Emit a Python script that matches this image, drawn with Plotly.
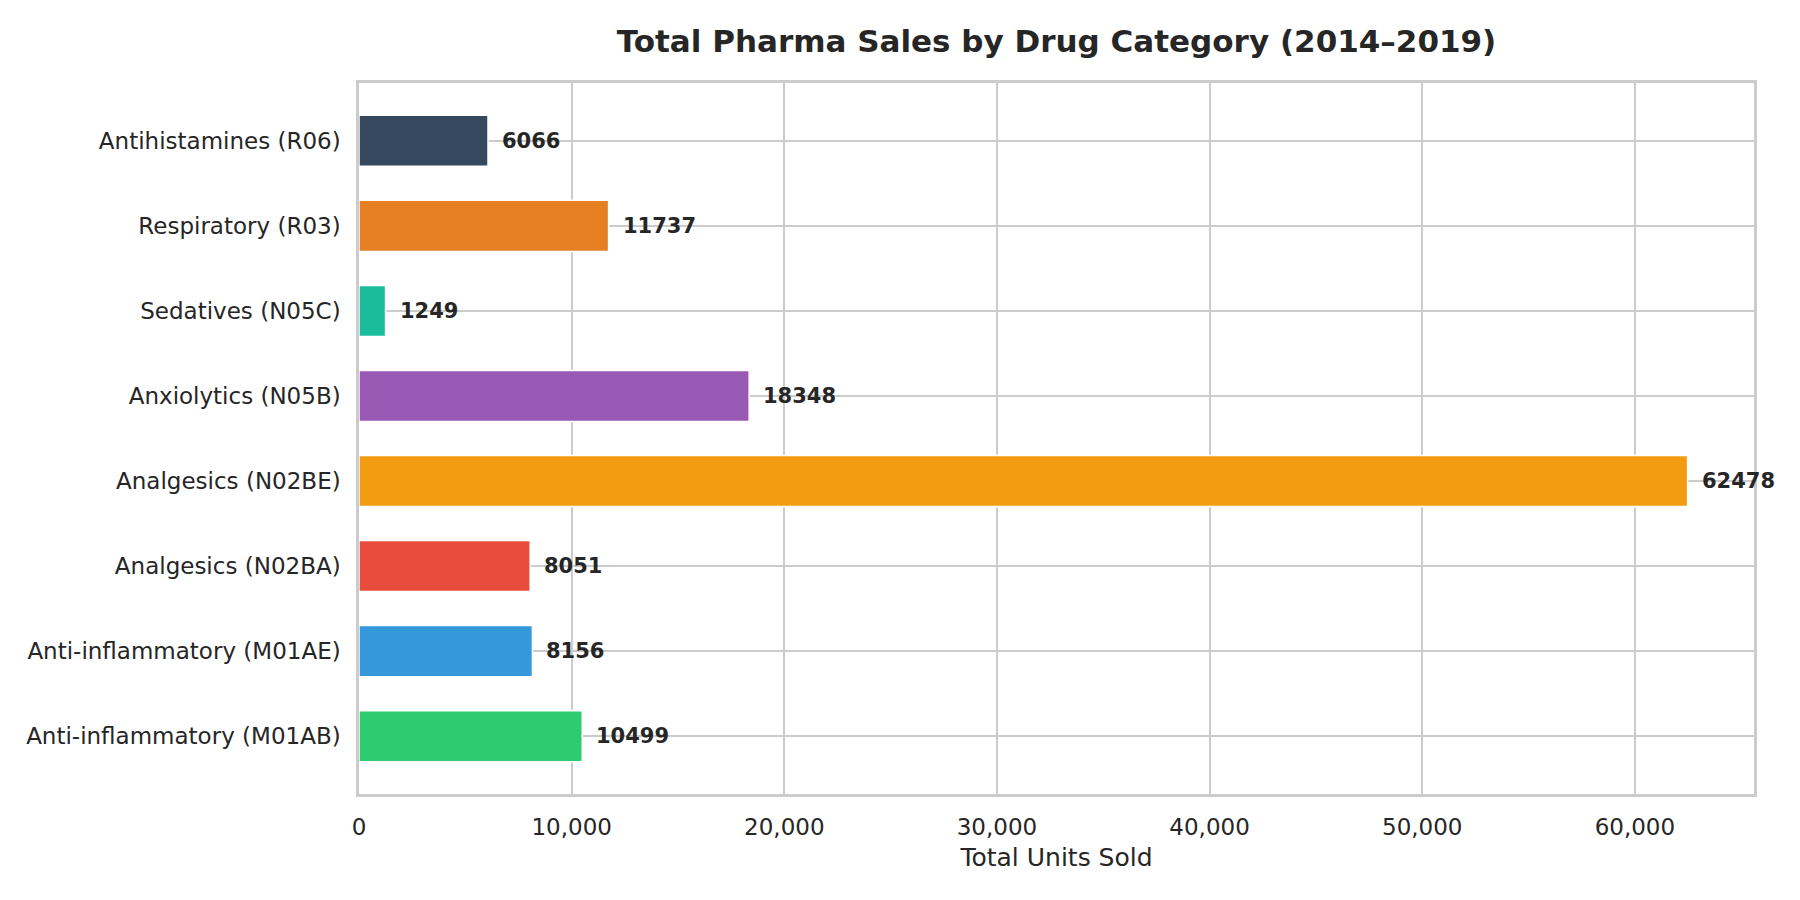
import plotly.graph_objects as go

categories = [
    "Anti-inflammatory (M01AB)",
    "Anti-inflammatory (M01AE)",
    "Analgesics (N02BA)",
    "Analgesics (N02BE)",
    "Anxiolytics (N05B)",
    "Sedatives (N05C)",
    "Respiratory (R03)",
    "Antihistamines (R06)",
]
units_sold = [10499, 8156, 8051, 62478, 18348, 1249, 11737, 6066]
bar_colors = ["#2ecc71", "#3498db", "#e74c3c", "#f39c12", "#9b59b6", "#1abc9c", "#e67e22", "#34495e"]
x_tick_values = [0, 10000, 20000, 30000, 40000, 50000, 60000]
x_tick_labels = ["0", "10,000", "20,000", "30,000", "40,000", "50,000", "60,000"]

FONT = "DejaVu Sans"
TEXT = "#262626"
GRID = "#cccccc"

fig = go.Figure()
fig.add_trace(go.Bar(
    x=units_sold,
    y=categories,
    orientation="h",
    width=0.6,
    marker=dict(color=bar_colors, line=dict(color="white", width=1.5)),
    hoverinfo="x+y",
))

for cat, val in zip(categories, units_sold):
    fig.add_annotation(
        x=val, y=cat, xref="x", yref="y",
        text=f"<b>{val}</b>", showarrow=False,
        xanchor="left", yanchor="middle", xshift=12,
        font=dict(family=FONT, size=21, color=TEXT),
    )

xmax = max(units_sold) * 1.05
fig.update_layout(
    width=1800, height=900,
    paper_bgcolor="white", plot_bgcolor="white",
    margin=dict(l=359, r=46, t=83, b=106),
    showlegend=False,
    title=dict(
        text="<b>Total Pharma Sales by Drug Category (2014–2019)</b>",
        x=0.5, xref="paper", y=1 - 41 / 900, yref="container",
        xanchor="center", yanchor="middle",
        font=dict(family=FONT, size=31, color=TEXT),
    ),
    font=dict(family=FONT, color=TEXT),
    xaxis=dict(
        range=[0, xmax],
        tickvals=x_tick_values, ticktext=x_tick_labels,
        showgrid=True, gridcolor=GRID, gridwidth=2,
        zeroline=False,
        showline=True, linecolor=GRID, linewidth=2.5, mirror=True,
        ticks="", ticklabelstandoff=11,
        tickfont=dict(family=FONT, size=23, color=TEXT),
        title=dict(text="Total Units Sold", standoff=10,
                   font=dict(family=FONT, size=25, color=TEXT)),
    ),
    yaxis=dict(
        type="category",
        categoryorder="array", categoryarray=categories,
        range=[-0.68, len(categories) - 1 + 0.68],
        showgrid=True, gridcolor=GRID, gridwidth=2,
        zeroline=False,
        showline=True, linecolor=GRID, linewidth=2.5, mirror=True,
        ticks="", ticklabelstandoff=11,
        tickfont=dict(family=FONT, size=23, color=TEXT),
    ),
    bargap=0.4,
)

fig.write_html("out.html")
